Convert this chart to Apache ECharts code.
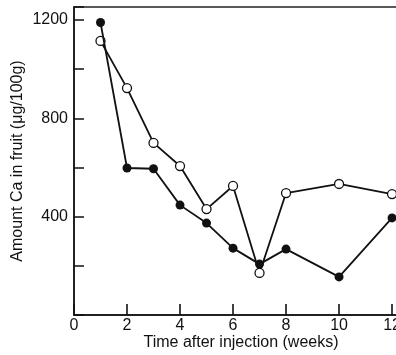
<!DOCTYPE html>
<html><head><meta charset="utf-8">
<script src="https://cdn.jsdelivr.net/npm/echarts@6/dist/echarts.min.js"></script>
<style>html,body{margin:0;padding:0;background:#fff}#c{width:396px;height:355px}</style>
</head><body><div id="c"></div>
<script>
const weeks = [1, 2, 3, 4, 5, 6, 7, 8, 10, 12];
const filledValues = [1190, 598, 595, 447, 374, 272, 207, 268, 155, 395];
const openValues = [1115, 923, 700, 606, 431, 525, 171, 496, 533, 492];
const xLabelValues = [0, 2, 4, 6, 8, 10, 12];
const yLabelValues = [400, 800, 1200];
const xTitle = 'Time after injection (weeks)';
const yTitle = 'Amount Ca in fruit (\u03bcg/100g)';

const font = 'Liberation Sans, Arial, sans-serif';
const chart = echarts.init(document.getElementById('c'));
const pair = (xs, ys) => xs.map((x, i) => [x, ys[i]]);
chart.setOption({
  animation: false,
  grid: {left: 74, right: -4, top: 7, bottom: 40, containLabel: false, outerBoundsMode: 'none',
    show: true, borderColor: '#222', borderWidth: 1.5, backgroundColor: 'transparent'},
  xAxis: {
    type: 'value', min: 0, max: 12.3, interval: 2,
    name: xTitle, nameLocation: 'middle', nameGap: 20, nameMoveOverlap: false,
    nameTextStyle: {color: '#111', fontSize: 16, fontFamily: font, padding: [0, 0, 0, 8]},
    axisLine: {show: true, onZero: false, lineStyle: {color: '#111', width: 1.5}},
    axisTick: {show: true, inside: true, length: 11, lineStyle: {color: '#111', width: 1.6}},
    axisLabel: {color: '#111', fontSize: 16, fontFamily: font, margin: 3,
      formatter: v => xLabelValues.includes(v) ? String(v) : ''},
    splitLine: {show: false}
  },
  yAxis: {
    type: 'value', min: 0, max: 1253, interval: 200,
    name: yTitle, nameLocation: 'middle', nameGap: 48, nameRotate: 90, nameMoveOverlap: false,
    nameTextStyle: {color: '#111', fontSize: 16, fontFamily: font},
    axisLine: {show: true, onZero: false, lineStyle: {color: '#111', width: 1.5}},
    axisTick: {show: true, inside: true, length: 10, lineStyle: {color: '#111', width: 1.5}},
    axisLabel: {color: '#111', fontSize: 16, fontFamily: font, margin: 6,
      formatter: v => yLabelValues.includes(v) ? String(v) : ''},
    splitLine: {show: false}
  },
  series: [{
    type: 'line', data: pair(weeks, openValues),
    symbol: 'circle', symbolSize: 9,
    lineStyle: {color: '#111', width: 1.8},
    itemStyle: {color: '#fff', borderColor: '#111', borderWidth: 1.3},
    z: 2
  }, {
    type: 'line', data: pair(weeks, filledValues),
    symbol: 'circle', symbolSize: 9,
    lineStyle: {color: '#111', width: 1.8},
    itemStyle: {color: '#111', borderColor: '#111', borderWidth: 0},
    z: 3
  }]
});
</script></body></html>
